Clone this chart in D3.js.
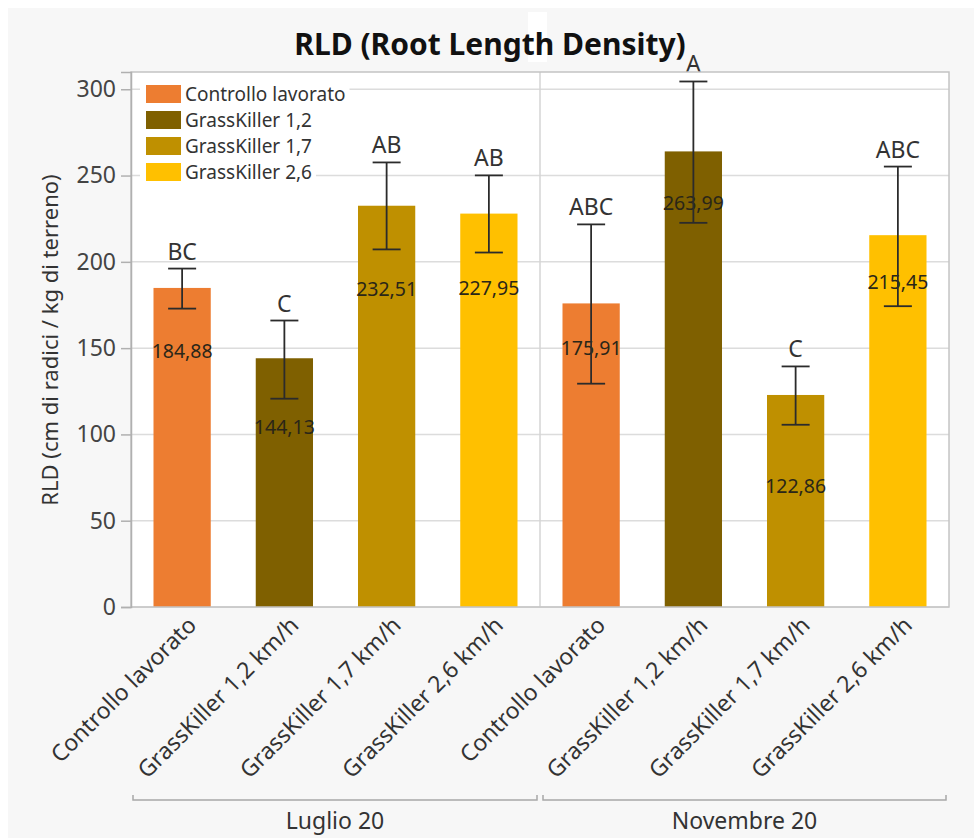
<!DOCTYPE html>
<html><head><meta charset="utf-8">
<script src="https://cdn.jsdelivr.net/npm/d3@7"></script>
<style>
html,body{margin:0;padding:0;background:#fff;}
svg{display:block;}
text{font-family:"Noto Sans","Open Sans",sans-serif;}
</style></head>
<body><svg id="c" width="974" height="838"></svg>
<script>
const groups = ["Luglio 20", "Novembre 20"];
const treatments = ["Controllo lavorato", "GrassKiller 1,2 km/h", "GrassKiller 1,7 km/h", "GrassKiller 2,6 km/h"];
const legendLabels = ["Controllo lavorato", "GrassKiller 1,2", "GrassKiller 1,7", "GrassKiller 2,6"];
const colors = ["#ED7D31", "#7F6000", "#BF9000", "#FFC000"];
const values = [184.88, 144.13, 232.51, 227.95, 175.91, 263.99, 122.86, 215.45];
const errUp = [196.1, 166.0, 257.6, 250.1, 221.7, 304.5, 139.4, 255.2];
const errLow = [172.9, 120.7, 207.2, 205.4, 129.4, 222.6, 105.6, 174.3];
const letters = ["BC", "C", "AB", "AB", "ABC", "A", "C", "ABC"];
const labelAt = [148, 104, 184, 185, 150, 234, 70, 188];
const yTicks = [0, 50, 100, 150, 200, 250, 300];

const svg = d3.select("#c");
const L = 131, R = 949, T = 72, B = 607;

svg.append("rect").attr("x", 8).attr("y", 8).attr("width", 966).attr("height", 830).attr("fill", "#f7f7f7");

const keys = [];
groups.forEach((g, gi) => treatments.forEach((t, ti) => keys.push(gi + "|" + ti)));
const x = d3.scaleBand().domain(keys).range([L, R]).paddingInner(0.44).paddingOuter(0.22);
const y = d3.scaleLinear().domain([0, 310]).range([B, T]);

svg.append("rect").attr("x", L).attr("y", T).attr("width", R - L).attr("height", B - T).attr("fill", "#fff");
svg.append("g").selectAll("line").data(yTicks).join("line")
  .attr("x1", L).attr("x2", R).attr("y1", d => y(d)).attr("y2", d => y(d))
  .attr("stroke", "#dcdcdc").attr("stroke-width", 1.5);
const divX = L + (R - L) / 2;
svg.append("line").attr("x1", divX).attr("x2", divX).attr("y1", T).attr("y2", B).attr("stroke", "#d4d4d4").attr("stroke-width", 1.5);

const data = values.map((v, i) => ({ v, i, key: keys[i], c: colors[i % 4] }));
svg.append("g").selectAll("rect").data(data).join("rect")
  .attr("x", d => x(d.key)).attr("width", x.bandwidth())
  .attr("y", d => y(d.v)).attr("height", d => y(0) - y(d.v)).attr("fill", d => d.c);

svg.append("g").selectAll("text").data(data).join("text")
  .attr("x", d => x(d.key) + x.bandwidth() / 2).attr("y", d => y(labelAt[d.i]))
  .attr("dy", "0.35em").attr("text-anchor", "middle").attr("font-size", 19.5)
  .attr("fill", "#2a2618").text(d => d3.format(".2f")(d.v).replace(".", ","));

const eb = svg.append("g").attr("stroke", "#2b2b2b").attr("stroke-width", 1.8);
data.forEach(d => {
  const cx = x(d.key) + x.bandwidth() / 2;
  eb.append("line").attr("x1", cx).attr("x2", cx).attr("y1", y(errUp[d.i])).attr("y2", y(errLow[d.i]));
  [errUp[d.i], errLow[d.i]].forEach(e => eb.append("line").attr("x1", cx - 14).attr("x2", cx + 14).attr("y1", y(e)).attr("y2", y(e)));
});

svg.append("g").selectAll("text").data(data).join("text")
  .attr("x", d => x(d.key) + x.bandwidth() / 2).attr("y", d => y(errUp[d.i]) - 9)
  .attr("text-anchor", "middle").attr("font-size", 23).attr("fill", "#333").text(d => letters[d.i]);

svg.append("rect").attr("x", L).attr("y", T).attr("width", R - L).attr("height", B - T)
  .attr("fill", "none").attr("stroke", "#c4c4c4").attr("stroke-width", 1.5);

const yAxis = svg.append("g").attr("transform", `translate(${L},0)`)
  .call(d3.axisLeft(y).tickValues(yTicks).tickSize(10).tickPadding(5));
yAxis.select(".domain").attr("stroke", "#b0b0b0").attr("stroke-width", 1.5);
yAxis.selectAll(".tick line").attr("stroke", "#b0b0b0").attr("stroke-width", 1.5);
yAxis.selectAll(".tick text").attr("font-size", 23).attr("fill", "#444").attr("font-family", "Noto Sans");

svg.append("text").attr("transform", "translate(58,340) rotate(-90)").attr("text-anchor", "middle")
  .attr("font-size", 22).attr("fill", "#333").text("RLD (cm di radici / kg di terreno)");

svg.append("g").selectAll("text").data(data).join("text")
  .attr("transform", d => `translate(${x(d.key) + x.bandwidth() / 2 + 10},${B + 14}) rotate(-45)`)
  .attr("text-anchor", "end").attr("dy", "0.35em").attr("font-size", 23).attr("fill", "#333")
  .text(d => treatments[d.i % 4]);

groups.forEach((g, gi) => {
  const x0 = gi === 0 ? L + 2 : divX + 3;
  const x1 = gi === 0 ? divX - 3 : R - 3;
  svg.append("path").attr("d", `M${x0},795V800H${x1}V795`).attr("fill", "none").attr("stroke", "#a8a8a8").attr("stroke-width", 1.5);
  svg.append("text").attr("x", (x0 + x1) / 2).attr("y", 829).attr("text-anchor", "middle")
    .attr("font-size", 23).attr("fill", "#333").text(g);
});

const lg = svg.append("g");
legendLabels.forEach((t, i) => {
  const yy = 85 + i * 26;
  const row = lg.append("g");
  const bg = row.append("rect").attr("fill", "#fff");
  row.append("rect").attr("x", 146).attr("y", yy).attr("width", 35).attr("height", 18).attr("fill", colors[i]);
  const tx = row.append("text").attr("x", 185).attr("y", yy + 9).attr("dy", "0.35em").attr("font-size", 19).attr("fill", "#333").text(t);
  const bb = tx.node().getBBox();
  bg.attr("x", 140).attr("y", yy - 4).attr("width", bb.x + bb.width + 4 - 140).attr("height", 26);
});

svg.append("rect").attr("x", 528).attr("y", 12).attr("width", 19).attr("height", 50).attr("fill", "#fff");
svg.append("text").attr("x", 490).attr("y", 55).attr("text-anchor", "middle").attr("font-size", 30)
  .attr("font-weight", "bold").attr("fill", "#111").text("RLD (Root Length Density)");
</script></body></html>
